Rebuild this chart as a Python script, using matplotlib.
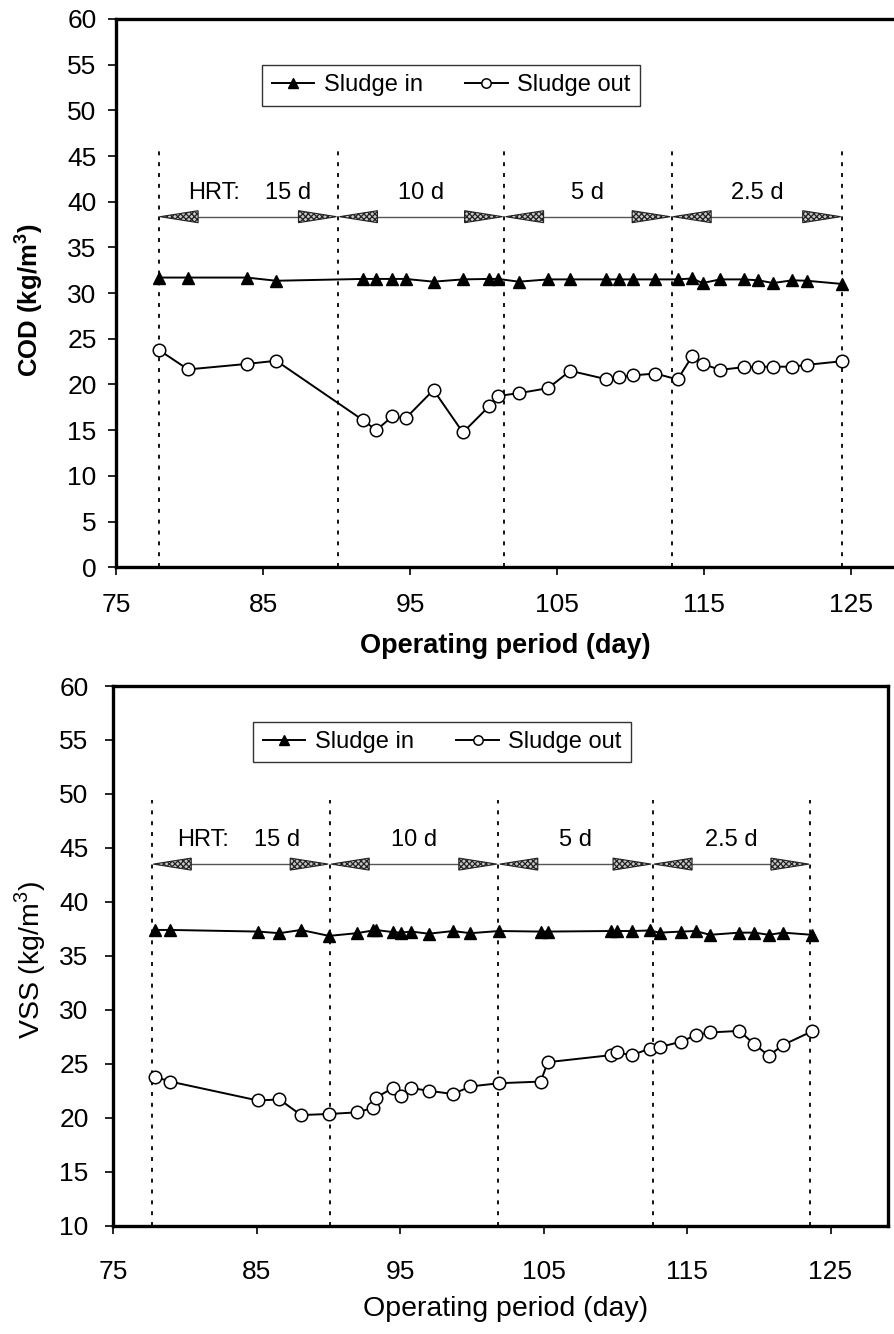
import matplotlib
matplotlib.use('Agg')
import matplotlib.pyplot as plt
from matplotlib.patches import Polygon

plt.rcParams['font.family'] = ['Liberation Sans', 'DejaVu Sans']
plt.rcParams['mathtext.fontset'] = 'custom'
plt.rcParams['mathtext.rm'] = 'Liberation Sans'
plt.rcParams['mathtext.bf'] = 'Liberation Sans:bold'
plt.rcParams['hatch.linewidth'] = 0.9
plt.rcParams['hatch.color'] = '#333333'

# ---- COD panel data ----
cod_days = [77.9, 79.9, 83.9, 85.9, 91.8, 92.7, 93.8, 94.7, 96.6, 98.6, 100.4, 101.0,
            102.4, 104.4, 105.9, 108.3, 109.2, 110.2, 111.7, 113.2, 114.2, 114.9,
            116.1, 117.7, 118.7, 119.7, 121.0, 122.0, 124.4]
cod_in = [31.7, 31.7, 31.7, 31.35, 31.55, 31.55, 31.55, 31.55, 31.25, 31.5, 31.55, 31.55,
          31.25, 31.5, 31.5, 31.5, 31.5, 31.5, 31.5, 31.5, 31.6, 31.1,
          31.5, 31.5, 31.4, 31.1, 31.4, 31.35, 31.0]
cod_out = [23.8, 21.65, 22.25, 22.6, 16.1, 15.0, 16.5, 16.3, 19.4, 14.75, 17.65, 18.75,
           19.05, 19.6, 21.5, 20.6, 20.8, 21.0, 21.2, 20.55, 23.1, 22.25,
           21.6, 21.9, 21.95, 21.95, 21.95, 22.15, 22.55]
cod_bounds = [77.9, 90.1, 101.4, 112.8, 124.4]

# ---- VSS panel data ----
vss_days = [77.9, 79.0, 85.1, 86.6, 88.1, 90.05, 92.0, 93.1, 93.3, 94.5, 95.05, 95.8,
            97.0, 98.7, 99.9, 101.9, 104.8, 105.3, 109.7, 110.1, 111.15, 112.4, 113.1,
            114.6, 115.6, 116.6, 118.65, 119.7, 120.7, 121.7, 123.7]
vss_in = [37.4, 37.4, 37.25, 37.1, 37.4, 36.85, 37.1, 37.35, 37.4, 37.2, 37.15, 37.25,
          37.05, 37.3, 37.1, 37.3, 37.25, 37.25, 37.3, 37.3, 37.3, 37.35, 37.15,
          37.25, 37.3, 36.95, 37.15, 37.15, 36.95, 37.15, 36.95]
vss_out = [23.8, 23.35, 21.6, 21.7, 20.25, 20.35, 20.5, 20.9, 21.85, 22.75, 22.0, 22.75,
           22.5, 22.2, 22.9, 23.2, 23.35, 25.15, 25.8, 26.05, 25.8, 26.4, 26.55,
           27.05, 27.65, 27.9, 28.05, 26.8, 25.75, 26.75, 28.0]
vss_bounds = [77.7, 90.1, 101.85, 112.6, 123.6]

hrt_labels = ['15 d', '10 d', '5 d', '2.5 d']
x_ticks = [75, 85, 95, 105, 115, 125]

FIG_W, FIG_H = 895, 1334
fig = plt.figure(figsize=(FIG_W / 100, FIG_H / 100), dpi=100)


def hrt_arrows(ax, bounds, y, px_day, px_unit):
    head_len = 38 / px_day
    half_h = 6 / px_unit
    gap = 1.5 / px_day
    for a, b in zip(bounds[:-1], bounds[1:]):
        l, r = a + gap, b - gap
        ax.plot([l + head_len, r - head_len], [y, y], color='#555555', lw=1.0, zorder=3)
        for tip, base in ((l, l + head_len), (r, r - head_len)):
            tri = Polygon([(tip, y), (base, y + half_h), (base, y - half_h)], closed=True,
                          facecolor='#c8c8c8', edgecolor='#222222', lw=0.8,
                          hatch='xxxxxx', zorder=4)
            ax.add_patch(tri)


def draw_panel(ax, days, s_in, s_out, bounds, ylim, xlim, ystep, line_top,
               arrow_y, text_y, lab_x_off, leg_anchor, tick_pad, ytick_pad):
    ax.set_xlim(*xlim)
    ax.set_ylim(*ylim)

    ax.plot(days, s_in, color='black', lw=1.4, marker='^', ms=9,
            mfc='black', mec='black', label='Sludge in', zorder=5)
    ax.plot(days, s_out, color='black', lw=1.4, marker='o', ms=9,
            mfc='white', mec='black', mew=1.1, label='Sludge out', zorder=5)

    for b in bounds:
        ax.plot([b, b], [ylim[0], line_top], color='black', lw=1.3,
                linestyle=(0, (2.2, 3.8)), zorder=2)

    pos = ax.get_position()
    px_day = pos.width * FIG_W / (xlim[1] - xlim[0])
    px_unit = pos.height * FIG_H / (ylim[1] - ylim[0])
    hrt_arrows(ax, bounds, arrow_y, px_day, px_unit)

    mids = [(a + b) / 2 for a, b in zip(bounds[:-1], bounds[1:])]
    ax.text(mids[0] - lab_x_off[0], text_y, 'HRT:', ha='center', va='center', fontsize=17)
    ax.text(mids[0] + lab_x_off[1], text_y, hrt_labels[0], ha='center', va='center', fontsize=17)
    for m, lab in zip(mids[1:], hrt_labels[1:]):
        ax.text(m, text_y, lab, ha='center', va='center', fontsize=17)

    ax.set_xticks(x_ticks)
    ax.set_yticks(range(ylim[0], ylim[1] + 1, ystep))
    ax.tick_params(axis='x', direction='out', length=6, width=1.2, labelsize=19, pad=tick_pad)
    ax.tick_params(axis='y', direction='out', length=6, width=1.2, labelsize=19, pad=ytick_pad)
    for sp in ax.spines.values():
        sp.set_linewidth(2.4)

    leg = ax.legend(loc='upper left', ncol=2, fontsize=17, frameon=True, fancybox=False,
                    edgecolor='black', handlelength=1.8, handletextpad=0.4,
                    columnspacing=1.8, borderpad=0.4, markerscale=0.75,
                    bbox_to_anchor=leg_anchor)
    leg.get_frame().set_linewidth(1.0)


# COD panel (top)
ax1 = fig.add_axes([116 / FIG_W, 1 - 567.3 / FIG_H, 781 / FIG_W, 548.4 / FIG_H])
draw_panel(ax1, cod_days, cod_in, cod_out, cod_bounds, (0, 60), (75, 75 + 781 / 14.7), 5,
           45.5, 38.36, 40.9, (2.3, 2.7), (0.172, 0.938), 12.5, 8)
ax1.set_ylabel(r'COD (kg/m$^\mathbf{3}$)', fontsize=18.5, fontweight='bold')
ax1.yaxis.set_label_coords(-0.112, 0.486)
ax1.yaxis.label.set_va('center')
ax1.set_xlabel('Operating period (day)', fontsize=19.5, fontweight='bold')
ax1.xaxis.set_label_coords(0.498, -0.143)
ax1.xaxis.label.set_va('center')

# VSS panel (bottom)
ax2 = fig.add_axes([113 / FIG_W, 1 - 1225.7 / FIG_H, 775 / FIG_W, 539.7 / FIG_H])
draw_panel(ax2, vss_days, vss_in, vss_out, vss_bounds, (10, 60), (75, 75 + 775 / 14.35), 5,
           49.4, 43.5, 45.75, (2.6, 2.5), (0.166, 0.956), 19, 11.5)
ax2.set_ylabel(r'VSS (kg/m$^3$)', fontsize=20.5)
ax2.yaxis.set_label_coords(-0.107, 0.492)
ax2.yaxis.label.set_va('center')
ax2.set_xlabel('Operating period (day)', fontsize=20.5)
ax2.xaxis.set_label_coords(0.506, -0.154)
ax2.xaxis.label.set_va('center')

fig.savefig('out.png', dpi=100)
